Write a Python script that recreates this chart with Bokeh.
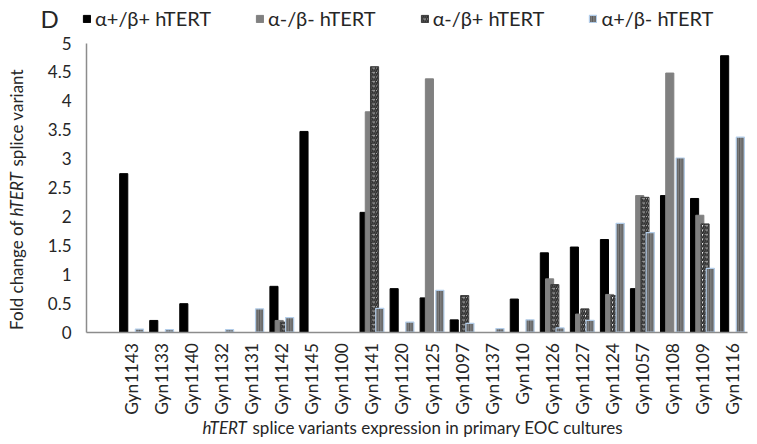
from math import pi

from bokeh.plotting import figure
from bokeh.embed import file_html
from bokeh.resources import INLINE
from bokeh.models import (ColumnDataSource, FixedTicker, Label, Legend, LegendItem,
                          LinearAxis, NumeralTickFormatter, Range1d)

samples = ["Gyn1143", "Gyn1133", "Gyn1140", "Gyn1132", "Gyn1131", "Gyn1142", "Gyn1145",
           "Gyn1100", "Gyn1141", "Gyn1120", "Gyn1125", "Gyn1097", "Gyn1137", "Gyn110",
           "Gyn1126", "Gyn1127", "Gyn1124", "Gyn1057", "Gyn1108", "Gyn1109", "Gyn1116"]

# fold change per splice variant
a_pos_b_pos = [2.74, 0.20, 0.49, 0, 0, 0.79, 3.47, 0, 2.07, 0.75, 0.59, 0.21, 0, 0.57,
               1.37, 1.47, 1.60, 0.75, 2.36, 2.31, 4.78]
a_neg_b_neg = [0, 0, 0, 0, 0, 0.20, 0, 0, 3.81, 0, 4.38, 0, 0, 0,
               0.92, 0.31, 0.65, 2.36, 4.48, 2.02, 0]
a_neg_b_pos = [0, 0, 0, 0, 0, 0.17, 0, 0, 4.59, 0, 0, 0.63, 0, 0,
               0.82, 0.40, 0.63, 2.33, 0, 1.87, 0]
a_pos_b_neg = [0.05, 0.04, 0, 0.04, 0.40, 0.25, 0, 0, 0.41, 0.17, 0.72, 0.15, 0.06, 0.21,
               0.07, 0.20, 1.88, 1.72, 3.01, 1.10, 3.37]

series_names = ["α+/β+ hTERT", "α-/β- hTERT", "α-/β+ hTERT", "α+/β- hTERT"]
y_ticks = [0, 0.5, 1, 1.5, 2, 2.5, 3, 3.5, 4, 4.5, 5]

FONT = "Lato"
TEXT = "#262626"
AXIS = "#8c8c8c"

W, H = 752, 440
# plot box of the original (pixels): left 86, right 747, y=0 at 331.5, y=5 at 42.5
PX_X = (747 - 86) / 22.0
PX_Y = (331.5 - 42.5) / 5.0

styles = [
    dict(fill_color="black", line_color="black"),
    dict(fill_color="#808080", line_color="#808080"),
    dict(fill_color="white", line_color="#3a3a3a", hatch_pattern="/", hatch_color="#2a2a2a",
         hatch_scale=4.5, hatch_weight=1.8),
    dict(fill_color="#7c7c7c", line_color="#b3cde9", line_width=1.2, hatch_pattern="|",
         hatch_color="#555555", hatch_scale=2.5, hatch_weight=1),
]

p = figure(width=W, height=H,
           x_range=Range1d(-1.5 - 86 / PX_X, -1.5 + (W - 86) / PX_X),
           y_range=Range1d(-(H - 331.5) / PX_Y, 5 + 42.5 / PX_Y),
           x_axis_location=None, y_axis_location=None,
           output_backend="svg", toolbar_location=None, min_border=0)
p.outline_line_color = None
p.grid.grid_line_color = None

bar_w = 0.27
step = 0.174
legend_items = []
for k, vals in enumerate([a_pos_b_pos, a_neg_b_neg, a_neg_b_pos, a_pos_b_neg]):
    xs = [i + (k - 1.5) * step for i, v in enumerate(vals) if v > 0]
    tops = [v for v in vals if v > 0]
    src = ColumnDataSource(dict(x=xs, top=tops))
    r = p.vbar(x="x", top="top", width=bar_w, source=src, **styles[k])
    legend_items.append(LegendItem(label=series_names[k], renderers=[r]))

legend = Legend(items=legend_items, orientation="horizontal", location=(82, H - 30),
                glyph_width=9, glyph_height=9, label_standoff=4, spacing=44,
                padding=0, margin=0, border_line_alpha=0, background_fill_alpha=0,
                label_text_font=FONT, label_text_font_size="20px", label_text_color=TEXT)
p.add_layout(legend, "center")

xaxis = LinearAxis(fixed_location=0, bounds=(-1.5, 20.5),
                   ticker=FixedTicker(ticks=list(range(len(samples)))),
                   major_label_overrides={i: s for i, s in enumerate(samples)},
                   major_label_orientation=pi / 2)
yaxis = LinearAxis(fixed_location=-1.5, bounds=(0, 5),
                   ticker=FixedTicker(ticks=y_ticks),
                   formatter=NumeralTickFormatter(format="0.[0]"))
for ax in (xaxis, yaxis):
    ax.axis_line_color = AXIS
    ax.axis_line_width = 1.5
    ax.major_tick_line_color = None
    ax.minor_tick_line_color = None
    ax.major_tick_out = 0
    ax.major_tick_in = 0
    ax.major_label_text_font = FONT
    ax.major_label_text_color = TEXT
xaxis.major_label_text_font_size = "17.5px"
yaxis.major_label_text_font_size = "17px"
xaxis.major_label_standoff = 11
yaxis.major_label_standoff = 15
p.add_layout(xaxis, "below")
p.add_layout(yaxis, "left")

# panel letter
p.add_layout(Label(x=40, y=H - 18, x_units="screen", y_units="screen", text="D",
                   text_font=FONT, text_font_size="24px", text_color=TEXT,
                   text_baseline="middle"))

# axis titles with italic gene name
lab = dict(x_units="screen", y_units="screen", text_font=FONT, text_font_size="17px",
           text_color=TEXT, text_baseline="middle")
p.add_layout(Label(x=202, y=H - 427, text="hTERT", text_font_style="italic", **lab))
p.add_layout(Label(x=252, y=H - 427, text="splice variants expression in primary EOC cultures", **lab))

p.add_layout(Label(x=16, y=H - 220, angle=pi / 2, text="Fold change of", text_align="right", **lab))
p.add_layout(Label(x=16, y=H - 216, angle=pi / 2, text="hTERT", text_font_style="italic", **lab))
p.add_layout(Label(x=16, y=H - 166, angle=pi / 2, text="splice variant", **lab))

open("out.html", "w").write(file_html(p, INLINE))
